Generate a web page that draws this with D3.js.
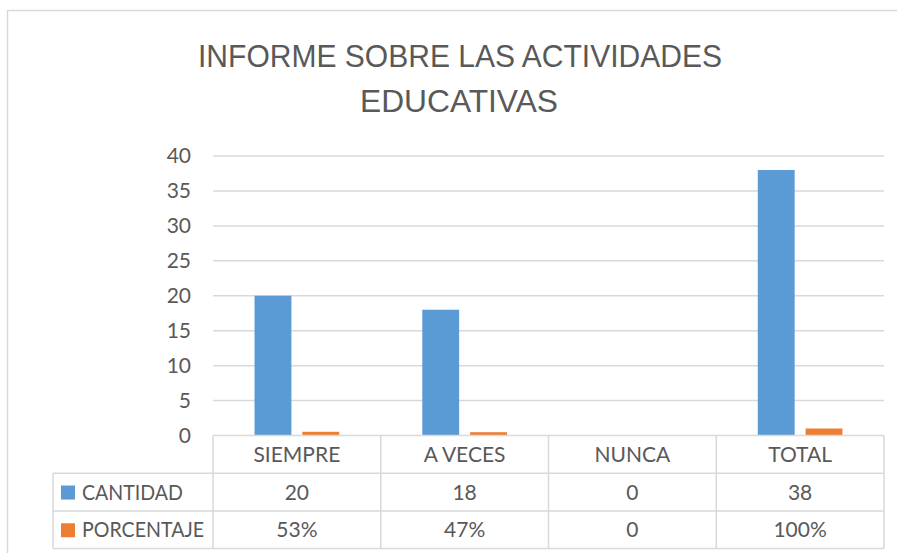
<!DOCTYPE html>
<html>
<head>
<meta charset="utf-8">
<script src="https://cdn.jsdelivr.net/npm/d3@7"></script>
<style>
  body { margin: 0; background: #fff; }
  svg { display: block; }
  text { fill: #595959; font-family: Lato, "Liberation Sans", sans-serif; }
  text.title { font-family: "Liberation Sans Narrow", "Liberation Sans", Arial, sans-serif; font-size: 31px; }
</style>
</head>
<body>
<div id="chart"></div>
<script>
// chart data
const categories = ["SIEMPRE", "A VECES", "NUNCA", "TOTAL"];
const seriesNames = ["CANTIDAD", "PORCENTAJE"];
const cantidad = [20, 18, 0, 38];
const porcentaje = [0.53, 0.47, 0, 1];
const porcentajeLabels = ["53%", "47%", "0", "100%"];
const yTicks = [0, 5, 10, 15, 20, 25, 30, 35, 40];
const colors = ["#5B9BD5", "#ED7D31"];

const width = 897, height = 553;
const plot = {left: 213, right: 884, top: 156, bottom: 435.5};
const rowH = 37.7;
const labelLeft = 53;
const grid = "#D9D9D9";
const legendTextW = [101, 122];

const svg = d3.select("#chart").append("svg")
  .attr("width", width)
  .attr("height", height);

// outer chart border
svg.append("rect")
  .attr("x", 7.5).attr("y", 10.5)
  .attr("width", 920).attr("height", 560)
  .attr("fill", "none").attr("stroke", grid).attr("stroke-width", 1.5);

// title
svg.append("text")
  .attr("class", "title")
  .attr("x", 460).attr("y", 67)
  .attr("text-anchor", "middle")
  .attr("textLength", 524).attr("lengthAdjust", "spacingAndGlyphs")
  .text("INFORME SOBRE LAS ACTIVIDADES");
svg.append("text")
  .attr("class", "title")
  .attr("x", 459).attr("y", 112)
  .attr("text-anchor", "middle")
  .attr("textLength", 198).attr("lengthAdjust", "spacingAndGlyphs")
  .text("EDUCATIVAS");

const x = d3.scaleBand().domain(categories).range([plot.left, plot.right]).padding(0);
const bw = x.bandwidth();
const xs = d3.scaleBand().domain(seriesNames)
  .range([bw * 0.2475, bw * 0.7525]).paddingInner(0.229);
const y = d3.scaleLinear().domain([0, 40]).range([plot.bottom, plot.top]);

// gridlines
svg.append("g")
  .selectAll("line")
  .data(yTicks.filter(d => d > 0))
  .join("line")
  .attr("x1", plot.left).attr("x2", plot.right)
  .attr("y1", d => y(d)).attr("y2", d => y(d))
  .attr("stroke", grid).attr("stroke-width", 1.5);

// y axis labels
const yAxis = svg.append("g")
  .attr("transform", `translate(${plot.left},0)`)
  .call(d3.axisLeft(y).tickValues(yTicks).tickSize(0).tickPadding(22));
yAxis.select(".domain").remove();
yAxis.selectAll("text")
  .attr("fill", "#595959")
  .style("font-family", "Lato, 'Liberation Sans', sans-serif")
  .style("font-size", "21px");

// bars
const series = [cantidad, porcentaje];
const barGroups = svg.append("g").selectAll("g")
  .data(seriesNames)
  .join("g")
  .attr("fill", (d, i) => colors[i]);

barGroups.selectAll("rect")
  .data((s, i) => categories.map((c, j) => ({cat: c, s: s, v: series[i][j]})))
  .join("rect")
  .attr("x", d => x(d.cat) + xs(d.s))
  .attr("width", xs.bandwidth())
  .attr("y", d => y(d.v))
  .attr("height", d => y(0) - y(d.v));

// data table
const table = svg.append("g").attr("stroke", grid).attr("stroke-width", 1.5);
const tTop = plot.bottom, r1 = tTop + rowH, r2 = r1 + rowH, r3 = r2 + rowH;
// horizontal lines
table.append("line").attr("x1", plot.left).attr("x2", plot.right).attr("y1", tTop).attr("y2", tTop);
[r1, r2, r3].forEach(yy => {
  table.append("line").attr("x1", labelLeft).attr("x2", plot.right).attr("y1", yy).attr("y2", yy);
});
// vertical lines
const cols = categories.map(c => x(c)).concat([plot.right]);
table.selectAll(".v")
  .data(cols)
  .join("line")
  .attr("x1", d => d).attr("x2", d => d)
  .attr("y1", tTop).attr("y2", r3);
table.append("line").attr("x1", labelLeft).attr("x2", labelLeft).attr("y1", r1).attr("y2", r3);

const cell = svg.append("g").style("font-size", "21px").attr("text-anchor", "middle");
cell.selectAll(".hdr")
  .data(categories)
  .join("text")
  .attr("x", d => x(d) + bw / 2)
  .attr("y", tTop + rowH / 2 + 7.5)
  .text(d => d);
cell.selectAll(".r1")
  .data(cantidad)
  .join("text")
  .attr("x", (d, i) => x(categories[i]) + bw / 2)
  .attr("y", r1 + rowH / 2 + 7.5)
  .text(d => d);
cell.selectAll(".r2")
  .data(porcentajeLabels)
  .join("text")
  .attr("x", (d, i) => x(categories[i]) + bw / 2)
  .attr("y", r2 + rowH / 2 + 7.5)
  .text(d => d);

// legend keys in table
const legend = svg.append("g").selectAll("g")
  .data(seriesNames)
  .join("g")
  .attr("transform", (d, i) => `translate(${labelLeft + 8},${r1 + i * rowH})`);
legend.append("rect")
  .attr("y", rowH / 2 - 6.5)
  .attr("width", 14).attr("height", 14)
  .attr("fill", (d, i) => colors[i]);
legend.append("text")
  .attr("x", 21)
  .attr("y", rowH / 2 + 7.5)
  .style("font-size", "21px")
  .attr("textLength", (d, i) => legendTextW[i])
  .attr("lengthAdjust", "spacingAndGlyphs")
  .text(d => d);
</script>
</body>
</html>
